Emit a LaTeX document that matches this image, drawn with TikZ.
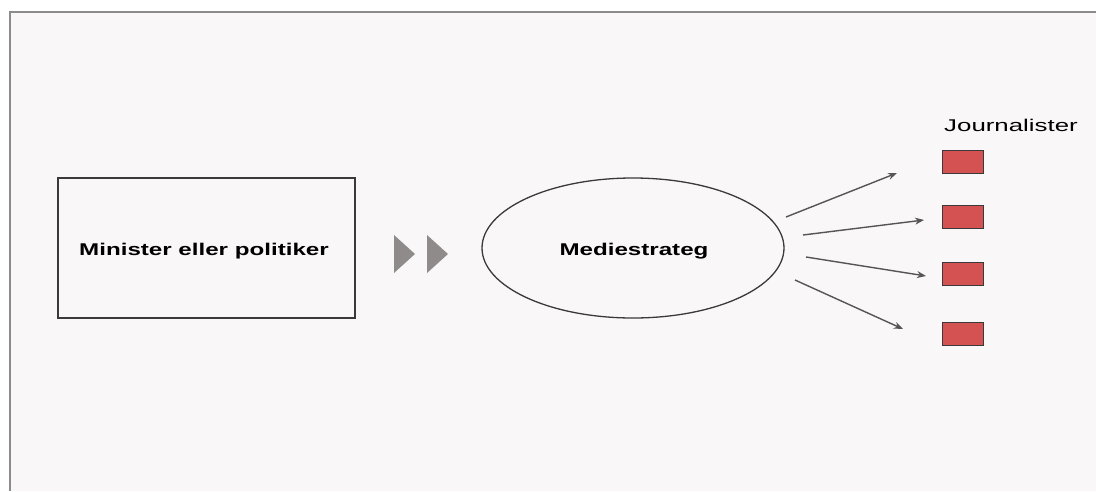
\documentclass[tikz,border=0pt]{standalone}
\usepackage{fontspec}
\setmainfont{Liberation Sans}
\usetikzlibrary{arrows.meta,shapes.geometric}
\definecolor{bg}{HTML}{F9F7F7}
\definecolor{framecol}{HTML}{8C8C8C}
\definecolor{boxred}{HTML}{D45252}
\definecolor{tricol}{HTML}{8F8B8B}
\definecolor{arrcol}{HTML}{555555}
\definecolor{edgecol}{HTML}{3A3A3A}
\newcommand{\wtxt}[3]{\scalebox{#2}[1]{\fontsize{#1}{#1}\selectfont #3}}
\begin{document}
\begin{tikzpicture}[x=1pt,y=-1pt,
  mainbox/.style={draw=edgecol, line width=1.3pt, minimum width=297pt, minimum height=140pt, inner sep=0pt},
  oval/.style={draw=edgecol, ellipse, line width=1.3pt, minimum width=302pt, minimum height=140pt, inner sep=0pt},
  redbox/.style={draw=edgecol, fill=boxred, line width=0.8pt, minimum width=41pt, minimum height=23pt, inner sep=0pt},
  ray/.style={draw=arrcol, line width=1.4pt, -{Stealth[length=9pt,width=7pt]}},
  lbl/.style={inner sep=0pt, anchor=base},
  chevron/.style={fill=tricol}]
\useasboundingbox (0,0) rectangle (1096,491);
\fill[white] (0,0) rectangle (1096,491);
\fill[bg] (10,12) rectangle (1096,491);
\draw[framecol, line width=2pt] (10,491) -- (10,12) -- (1096,12);

\node[mainbox] (minister) at (206.5,248) {};
\node[lbl] (ministerlbl) at (204,255) {\wtxt{17}{1.42}{\bfseries Minister eller politiker}};
\node[oval] (strateg) at (633,248) {};
\node[lbl] (strateglbl) at (634,255) {\wtxt{17}{1.42}{\bfseries Mediestrateg}};

\fill[chevron] (394,235) -- (415,254) -- (394,273) -- cycle;
\fill[chevron] (427,235) -- (448,254) -- (427,273) -- cycle;

\node[lbl] (jtitle) at (1011,131) {\wtxt{17}{1.52}{Journalister}};
\node[redbox] (j1) at (962.5,161.5) {};
\node[redbox] (j2) at (962.5,217) {};
\node[redbox] (j3) at (962.5,274) {};
\node[redbox] (j4) at (962.5,333.5) {};

\coordinate (s1) at (786,217);
\coordinate (e1) at (897,173);
\coordinate (s2) at (803,235);
\coordinate (e2) at (924,220);
\coordinate (s3) at (806,257);
\coordinate (e3) at (926,276);
\coordinate (s4) at (795,280);
\coordinate (e4) at (903,329);
\draw[ray] (s1) -- (e1);
\draw[ray] (s2) -- (e2);
\draw[ray] (s3) -- (e3);
\draw[ray] (s4) -- (e4);
\end{tikzpicture}
\end{document}
